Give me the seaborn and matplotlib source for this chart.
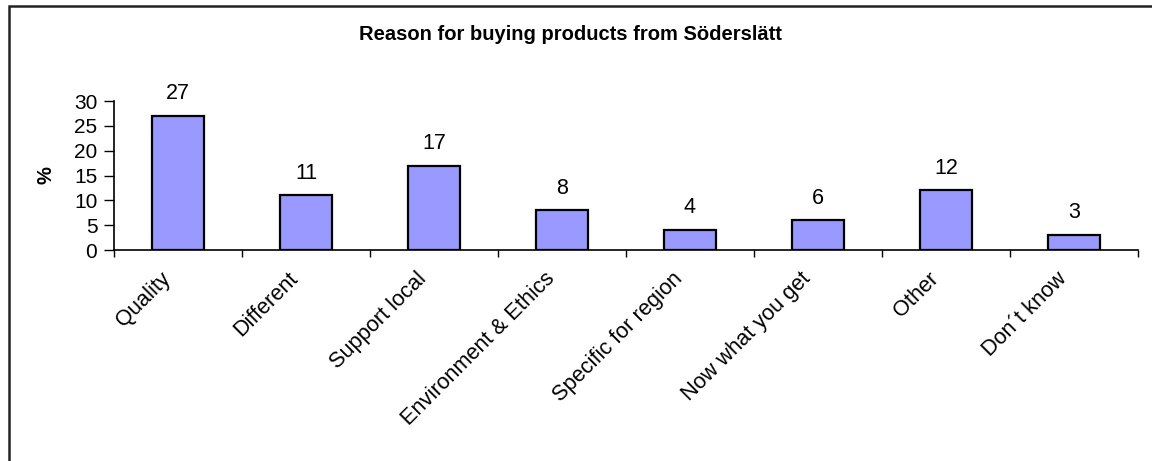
import matplotlib
matplotlib.use("Agg")
import matplotlib.pyplot as plt
import matplotlib.patches as mpatches
from matplotlib.transforms import ScaledTranslation
import seaborn as sns
import pandas as pd
import numpy as np

categories = ["Quality", "Different", "Support local", "Environment & Ethics",
              "Specific for region", "Now what you get", "Other", "Don´t know"]
percent = [27, 11, 17, 8, 4, 6, 12, 3]
y_ticks = [0, 5, 10, 15, 20, 25, 30]
title = "Reason for buying products from Söderslätt"

sns.set_theme(style="white")
plt.rcParams["font.family"] = ["Liberation Sans", "DejaVu Sans"]

df = pd.DataFrame({"reason": categories, "percent": percent})

fig = plt.figure(figsize=(11.52, 4.61), dpi=100)
ax = fig.add_axes([114 / 1152, 1 - 250 / 461, (1138 - 114) / 1152, 149 / 461])

sns.barplot(data=df, x="reason", y="percent", color="#9999FF", saturation=1,
            width=0.4, edgecolor="black", linewidth=1.6, ax=ax)

ax.set_xlim(-0.5, len(categories) - 0.5)
ax.set_ylim(0, 30)
ax.set_yticks(y_ticks)
ax.tick_params(axis="y", which="major", left=True, direction="out",
               length=7, width=1, labelsize=15, pad=5, color="black",
               labelcolor="black")

# category labels on major ticks (hidden), divider marks on minor ticks
ax.set_xticks(range(len(categories)))
ax.set_xticklabels(categories, rotation=45, ha="right", va="top",
                   rotation_mode="anchor", fontsize=15.7, color="black")
ax.set_xticks(np.arange(-0.5, len(categories), 1.0), minor=True)
ax.tick_params(axis="x", which="major", bottom=True, length=0, pad=13)
ax.tick_params(axis="x", which="minor", bottom=True, direction="out",
               length=5, width=1, color="black")
shift = ScaledTranslation(-18 / 100, 0, fig.dpi_scale_trans)
for lbl in ax.get_xticklabels():
    lbl.set_transform(lbl.get_transform() + shift)

for side in ["top", "right"]:
    ax.spines[side].set_visible(False)
for side in ["left", "bottom"]:
    ax.spines[side].set_color("black")
    ax.spines[side].set_linewidth(1.2)

ax.set_xlabel("")
ax.set_ylabel("%", fontsize=14.5, fontweight="bold", color="black")
ax.yaxis.set_label_coords((56 - 114) / 1024, 0.5)

for i, v in enumerate(percent):
    ax.annotate(str(v), (i, v), xytext=(0, 12), textcoords="offset points",
                ha="center", va="baseline", fontsize=15.5, color="black")

fig.text(570 / 1152, 1 - 35 / 461, title, ha="center", va="center",
         fontsize=14.5, fontweight="bold", color="black")

frame = mpatches.Rectangle((8.5 / 1152, -0.2), 1.2, 1 - 5.5 / 461 + 0.2,
                           transform=fig.transFigure, fill=False,
                           edgecolor="#222222", linewidth=1.8)
fig.patches.append(frame)

fig.savefig("out.png", dpi=100, facecolor="white")
